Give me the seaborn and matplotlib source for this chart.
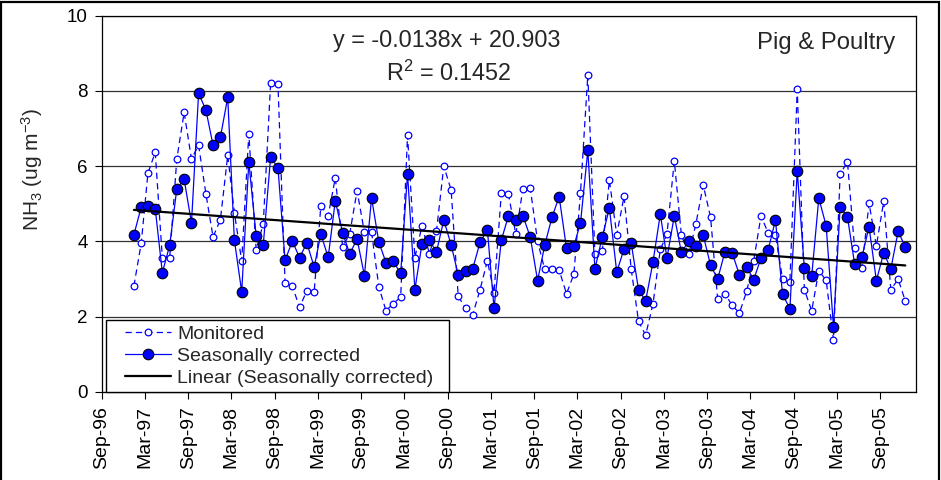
import numpy as np
import pandas as pd
import matplotlib
matplotlib.use("Agg")
import matplotlib.pyplot as plt
import matplotlib.dates as mdates
from matplotlib.lines import Line2D
from matplotlib.legend_handler import HandlerLine2D
from matplotlib.patches import Rectangle
import seaborn as sns

# Monthly NH3 concentrations (ug m-3), Jan 1997 - Dec 2005
START_MONTH = "1997-01-01"
N_MONTHS = 108

monitored = [
    2.82, 3.96, 5.81, 6.37, 3.56, 3.56, 6.19, 7.43, 6.19, 6.56, 5.26, 4.12,
    4.58, 6.29, 4.76, 3.48, 6.86, 3.78, 4.47, 8.20, 8.18, 2.90, 2.81, 2.25,
    2.69, 2.67, 4.95, 4.68, 5.69, 3.86, 4.21, 5.35, 4.24, 4.25, 2.79, 2.16,
    2.35, 2.52, 6.82, 3.57, 4.42, 3.68, 4.27, 6.00, 5.37, 2.54, 2.23, 2.05,
    2.72, 3.49, 2.64, 5.29, 5.26, 4.19, 5.40, 5.42, 4.00, 3.26, 3.27, 3.24,
    2.61, 3.13, 5.29, 8.43, 3.66, 3.74, 5.63, 4.18, 5.20, 3.27, 1.88, 1.51,
    2.34, 3.79, 4.19, 6.14, 4.17, 3.66, 4.46, 5.50, 4.65, 2.47, 2.61, 2.30,
    2.10, 2.69, 3.48, 4.68, 4.23, 4.18, 3.00, 2.93, 8.04, 2.72, 2.16, 3.22,
    2.97, 1.38, 5.79, 6.12, 3.83, 3.29, 5.02, 3.88, 5.07, 2.72, 3.00, 2.42,
]

seasonally_corrected = [
    4.18, 4.92, 4.95, 4.87, 3.17, 3.90, 5.40, 5.65, 4.49, 7.94, 7.49, 6.56,
    6.77, 7.83, 4.04, 2.66, 6.11, 4.15, 3.91, 6.24, 5.96, 3.50, 4.01, 3.57,
    3.96, 3.32, 4.20, 3.58, 5.08, 4.23, 3.67, 4.07, 3.09, 5.16, 3.98, 3.44,
    3.47, 3.15, 5.80, 2.72, 3.94, 4.04, 3.72, 4.57, 3.91, 3.11, 3.22, 3.27,
    3.98, 4.31, 2.23, 4.04, 4.68, 4.57, 4.68, 4.12, 2.96, 3.90, 4.65, 5.19,
    3.82, 3.88, 4.49, 6.42, 3.27, 4.12, 4.89, 3.19, 3.80, 3.96, 2.72, 2.42,
    3.45, 4.73, 3.56, 4.68, 3.71, 4.01, 3.88, 4.17, 3.37, 3.00, 3.73, 3.70,
    3.11, 3.32, 2.98, 3.56, 3.77, 4.57, 2.60, 2.21, 5.87, 3.29, 3.08, 5.15,
    4.42, 1.73, 4.92, 4.65, 3.41, 3.59, 4.39, 2.96, 3.70, 3.27, 4.27, 3.85,
]

# Linear trend of the seasonally corrected series (x = months since Jan 1900)
SLOPE = -0.0138
INTERCEPT = 20.903
R_SQUARED = 0.1452

SITE_LABEL = "Pig & Poultry"
SERIES_LABELS = ["Monitored", "Seasonally corrected", "Linear (Seasonally corrected)"]
Y_TICKS = [0, 2, 4, 6, 8, 10]

# ---------------------------------------------------------------------------
sns.set_style("ticks")
plt.rcParams["font.family"] = ["Liberation Sans", "DejaVu Sans"]
plt.rcParams["mathtext.fontset"] = "custom"
plt.rcParams["mathtext.rm"] = "Liberation Sans"
plt.rcParams["mathtext.it"] = "Liberation Sans:italic"
plt.rcParams["mathtext.bf"] = "Liberation Sans:bold"
plt.rcParams["lines.scale_dashes"] = False

dates = pd.date_range(START_MONTH, periods=N_MONTHS, freq="MS") + pd.Timedelta(days=14)
month_index = (dates.year - 1900) * 12 + dates.month - 1
df = pd.DataFrame({
    "date": dates,
    "monitored": monitored,
    "corrected": seasonally_corrected,
    "trend": SLOPE * np.asarray(month_index) + INTERCEPT,
})

W, H = 941, 480
fig = plt.figure(figsize=(W / 100, H / 100), dpi=100, facecolor="white")
ax_left, ax_right, ax_top, ax_bottom = 101.7, 915.7, 15.7, 392.0
ax = fig.add_axes([ax_left / W, 1 - ax_bottom / H,
                   (ax_right - ax_left) / W, (ax_bottom - ax_top) / H])

blue = "#0000FF"
sns.lineplot(data=df, x="date", y="monitored", ax=ax, sort=False, errorbar=None,
             color=blue, lw=0.9, linestyle=(0, (4.5, 3.0)),
             marker="o", markersize=4.8, markerfacecolor="white",
             markeredgecolor=blue, markeredgewidth=0.9,
             label=SERIES_LABELS[0], zorder=3)
sns.lineplot(data=df, x="date", y="corrected", ax=ax, sort=False, errorbar=None,
             color=blue, lw=0.9, marker="o", markersize=7.6,
             markerfacecolor=blue, markeredgecolor="black",
             markeredgewidth=0.8, label=SERIES_LABELS[1], zorder=4)
sns.lineplot(data=df, x="date", y="trend", ax=ax, sort=False, errorbar=None,
             color="black", lw=1.6, label=SERIES_LABELS[2], zorder=5)

# Axes, ticks and grid
ax.set_ylim(Y_TICKS[0], Y_TICKS[-1])
ax.set_yticks(Y_TICKS)
ax.set_xlim(pd.Timestamp("1996-09-01"), pd.Timestamp("2006-01-28"))
ax.xaxis.set_major_locator(mdates.MonthLocator(bymonth=[3, 9], bymonthday=1))
ax.xaxis.set_major_formatter(mdates.DateFormatter("%b-%y"))
ax.set_xlabel("")
ax.set_ylabel("")
ax.yaxis.grid(True, color="#333333", lw=0.9)
ax.xaxis.grid(False)
ax.set_axisbelow(True)
for side in ["left", "right", "top", "bottom"]:
    ax.spines[side].set_visible(True)
    ax.spines[side].set_color("black")
    ax.spines[side].set_linewidth(0.9)
ax.tick_params(axis="both", direction="out", length=5, width=0.8, color="black",
               labelcolor="black")
ax.tick_params(axis="x", labelsize=14, labelrotation=90, pad=5)
ax.tick_params(axis="y", labelsize=13.5, pad=5)

# Legend
handles, labels = ax.get_legend_handles_labels()
leg = ax.legend(handles, labels, loc="lower left",
                bbox_to_anchor=(0.005, 0.0, 0.4216, 0.1985), mode="expand",
                borderaxespad=0, fontsize=14, frameon=True, fancybox=False,
                edgecolor="black", facecolor="white", framealpha=1,
                handlelength=3.1, handletextpad=0.3, labelspacing=0.22,
                borderpad=0.28, numpoints=1,
                handler_map={Line2D: HandlerLine2D(xpad=0.72)})
leg.get_frame().set_linewidth(1.0)
leg.set_zorder(10)

# Text annotations
fig.text(32 / W, 1 - 169 / H, "NH$_3$ (ug m$^{-3}$)", rotation=90,
         ha="center", va="center", fontsize=15)
fig.text(447 / W, 1 - 40 / H, f"y = {SLOPE}x + {INTERCEPT}",
         ha="center", va="center", fontsize=16.8)
fig.text(449 / W, 1 - 73 / H, f"R$^2$ = {R_SQUARED}",
         ha="center", va="center", fontsize=16.8)
fig.text(826 / W, 1 - 43 / H, SITE_LABEL, ha="center", va="center", fontsize=17.2)

# Outer frame of the chart area
fig.add_artist(Rectangle((1 / W, -0.05), 938 / W, 1.05 - 2.5 / H,
                         transform=fig.transFigure, fill=False,
                         edgecolor="black", lw=1.6, clip_on=False))

fig.savefig("out.png", dpi=100, facecolor="white")
